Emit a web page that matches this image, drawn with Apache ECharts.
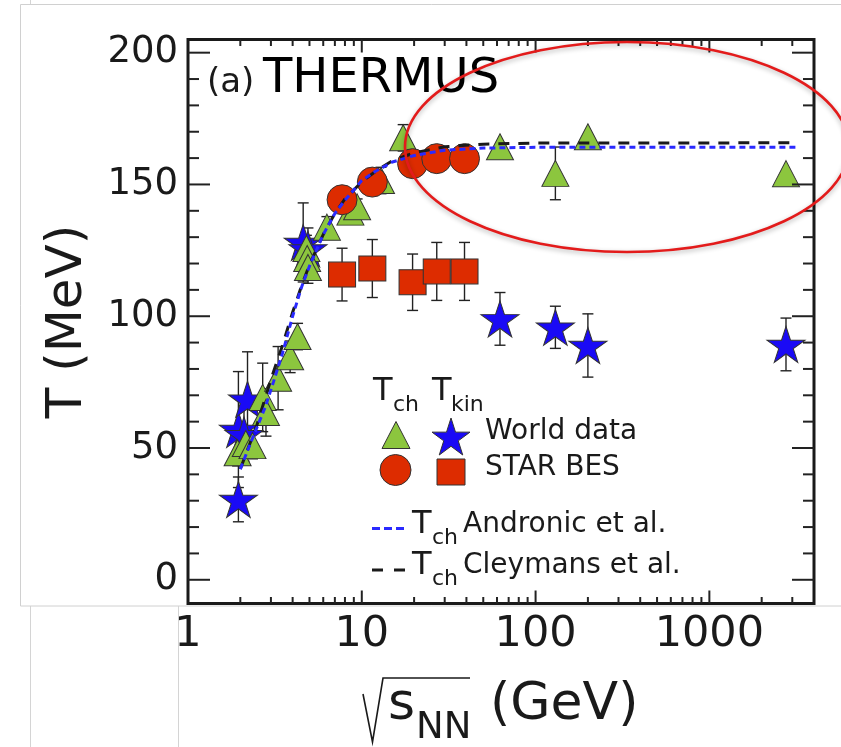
<!DOCTYPE html>
<html>
<head>
<meta charset="utf-8">
<script src="https://cdn.jsdelivr.net/npm/echarts@6/dist/echarts.min.js"></script>
<style>
  html, body { margin: 0; padding: 0; background: #fff; }
  #chart { width: 841px; height: 747px; }
</style>
</head>
<body>
<div id="chart"></div>
<script>
// ---- Chemical freeze-out temperature T_ch, world data (GeV, MeV, MeV error)
const triangleX   = [1.93, 2.15, 2.35, 2.69, 2.81, 3.3, 3.87, 4.27, 4.8, 4.85, 4.9, 6.3, 8.6, 9.4, 12.9, 17.3, 62.4, 130, 200, 2760];
const triangleY   = [48.2, 51.7, 50.9, 69.2, 63.5, 76.5, 84.6, 92.3, 125.7, 121.9, 118.5, 133.8, 139.5, 141.5, 151.5, 167.7, 164.3, 154.2, 168.1, 154.1];
const triangleErr = [5, 5, 5, 13, 9, 12, 6, 5, 5, 5, 6, 4, 3, 3, 5, 5, 0, 10, 0, 0];

// ---- Kinetic freeze-out temperature T_kin, world data
const starX   = [1.95, 1.95, 2.1, 2.2, 4.6, 4.9, 62.4, 130, 200, 2760];
const starY   = [30.5, 57, 55, 68.5, 128, 125.5, 99, 95.8, 88.9, 89.3];
const starErr = [8.5, 22, 10, 18, 15, 8, 10, 8, 12, 10];

// ---- STAR BES: T_ch (circles) and T_kin (squares)
const besX      = [7.7, 11.5, 19.6, 27, 39];
const circleY   = [144.2, 150.9, 157.9, 159.8, 159.8];
const squareY   = [115.8, 118.1, 112.9, 117, 117];
const squareErr = [10, 11, 10.7, 11, 11];

// ---- Model curves for T_ch
const andronicX = [2.0, 2.2, 2.5, 2.8, 3.1, 3.5, 4.0, 4.5, 5.0, 6.0, 7.0, 8.0, 10, 12, 15, 20, 30, 50, 100, 3200];
const andronicY = [42, 49, 58, 66, 75, 86, 100, 111, 119, 131, 139, 144, 151.5, 155, 158.5, 161, 163, 163.8, 164.1, 164.1];
const cleymansX = [2.0, 2.5, 3.0, 3.5, 4.0, 4.5, 5.0, 6.0, 7.0, 8.0, 10, 12, 15, 20, 30, 50, 100, 3200];
const cleymansY = [42, 59, 76, 89, 101.5, 111.5, 119.5, 131, 139, 144.5, 151, 155, 159, 162, 164.3, 165.3, 165.7, 165.8];

// ---- Axis ticks and labels
const xMajorTicks  = [1, 10, 100, 1000];
const xTickLabels  = ['1', '10', '100', '1000'];
const xFrameTicks  = [2, 3, 4, 5, 6, 7, 8, 9, 10, 20, 30, 40, 50, 60, 70, 80, 90,
                      100, 200, 300, 400, 500, 600, 700, 800, 900, 1000, 2000, 3000];
const yMajorTicks  = [0, 50, 100, 150, 200];
const yTickLabels  = ['0', '50', '100', '150', '200'];
const yFrameTicks  = [0, 10, 20, 30, 40, 50, 60, 70, 80, 90, 100, 110, 120, 130, 140,
                      150, 160, 170, 180, 190, 200];

const FONT = 'DejaVu Sans';
const INK = '#1a1a1a';
const GREEN = '#8cc63e', RED = '#dd2c00', BLUE = '#1a0af5';
// five-pointed star outline in a 100-unit box
const STAR_PTS = [[50, 0], [61.23, 34.55], [97.55, 34.55], [68.17, 55.9], [79.39, 90.45],
                  [50, 69.1], [20.61, 90.45], [31.83, 55.9], [2.45, 34.55], [38.77, 34.55]];
const STAR_D = 'M' + STAR_PTS.map(p => p.join(',')).join('L') + 'Z';

const zip = (xs, ys, es) => xs.map((x, i) => es ? [x, ys[i], es[i]] : [x, ys[i]]);
const near = (a, b) => Math.abs(a - b) <= 1e-6 * Math.max(1, Math.abs(b));

// legend key helpers: fit a unit outline into a box
function fitPoints(pts, x, y, w, h) {
  const xs = pts.map(p => p[0]), ys = pts.map(p => p[1]);
  const x0 = Math.min(...xs), x1 = Math.max(...xs), y0 = Math.min(...ys), y1 = Math.max(...ys);
  return pts.map(p => [x + (p[0] - x0) / (x1 - x0) * w, y + (p[1] - y0) / (y1 - y0) * h]);
}

const errorData = [].concat(
  zip(triangleX, triangleY, triangleErr),
  zip(starX, starY, starErr),
  zip(besX, squareY, squareErr)
);

function renderErrorBar(params, api) {
  const x = api.value(0), y = api.value(1), e = api.value(2);
  if (!(e > 0)) return null;
  const hi = api.coord([x, y + e]);
  const lo = api.coord([x, y - e]);
  const cap = 5.5;
  const style = { stroke: '#222', lineWidth: 1.4 };
  return {
    type: 'group',
    children: [
      { type: 'line', shape: { x1: hi[0], y1: hi[1], x2: lo[0], y2: lo[1] }, style },
      { type: 'line', shape: { x1: hi[0] - cap, y1: hi[1], x2: hi[0] + cap, y2: hi[1] }, style },
      { type: 'line', shape: { x1: lo[0] - cap, y1: lo[1], x2: lo[0] + cap, y2: lo[1] }, style }
    ]
  };
}

// frame ticks on bottom/top edges (log x) and left/right edges (linear y)
function renderXTick(params, api) {
  const cs = params.coordSys;
  const v = api.value(0);
  const major = xMajorTicks.some(t => near(v, t));
  const px = api.coord([v, 0])[0];
  const len = major ? 13 : 6.5;
  const style = { stroke: '#222', lineWidth: 2 };
  const b = cs.y + cs.height, t = cs.y;
  return {
    type: 'group',
    children: [
      { type: 'line', shape: { x1: px, y1: b, x2: px, y2: b - len }, style },
      { type: 'line', shape: { x1: px, y1: t, x2: px, y2: t + len }, style }
    ]
  };
}
function renderYTick(params, api) {
  const cs = params.coordSys;
  const v = api.value(1);
  const major = yMajorTicks.some(t => near(v, t));
  const py = api.coord([1, v])[1];
  const len = major ? 22 : 11;
  const style = { stroke: '#222', lineWidth: 2 };
  const l = cs.x, r = cs.x + cs.width;
  return {
    type: 'group',
    children: [
      { type: 'line', shape: { x1: l, y1: py, x2: l + len, y2: py }, style },
      { type: 'line', shape: { x1: r, y1: py, x2: r - len, y2: py }, style }
    ]
  };
}

function txt(x, y, s, size, extra) {
  return {
    type: 'text', x, y, z: 30,
    style: Object.assign({
      text: s, fontFamily: FONT, fontSize: size, fill: INK,
      align: 'left', verticalAlign: 'middle'
    }, extra || {})
  };
}

const markStyle = c => ({ color: c, opacity: 1, borderColor: '#333', borderWidth: 1 });

const graphics = [
  // page furniture behind the figure
  { type: 'line', z: -3, shape: { x1: 30.5, y1: 0, x2: 30.5, y2: 747 }, style: { stroke: '#d4d4d4', lineWidth: 1 } },
  { type: 'rect', z: -2, shape: { x: 20.5, y: 4.5, width: 900, height: 601.5 }, style: { fill: '#fff', stroke: '#d0d0d0', lineWidth: 1 } },
  { type: 'line', z: -2, shape: { x1: 178.5, y1: 606, x2: 178.5, y2: 747 }, style: { stroke: '#d4d4d4', lineWidth: 1 } },

  // panel title
  txt(207, 83, '(a)', 34),
  txt(263, 79.5, 'THERMUS', 48, { fill: '#000' }),

  // legend header
  txt(373, 392, 'T', 32), txt(393, 405.5, 'ch', 22),
  txt(432, 392, 'T', 32), txt(451, 405.5, 'kin', 22),

  // legend: world data
  { type: 'polygon', z: 30, shape: { points: [[396, 421.5], [410, 448.5], [382, 448.5]] },
    style: { fill: GREEN, stroke: '#333', lineWidth: 1 } },
  { type: 'polygon', z: 30, shape: { points: fitPoints(STAR_PTS, 432, 418, 38, 37) },
    style: { fill: BLUE, stroke: '#333', lineWidth: 1 } },
  txt(485, 432, 'World data', 28),

  // legend: STAR BES
  { type: 'circle', z: 30, shape: { cx: 395.5, cy: 470, r: 15.5 }, style: { fill: RED, stroke: '#333', lineWidth: 1 } },
  { type: 'rect', z: 30, shape: { x: 437, y: 459, width: 28, height: 26 }, style: { fill: RED, stroke: '#333', lineWidth: 1 } },
  txt(485, 467.5, 'STAR BES', 28),

  // legend: model curves
  { type: 'line', z: 30, shape: { x1: 372, y1: 528.5, x2: 405, y2: 528.5 }, style: { stroke: '#2a2aff', lineWidth: 3, lineDash: [8, 4] } },
  txt(412, 525, 'T', 32), txt(432, 538.5, 'ch', 22), txt(463, 525, 'Andronic et al.', 28),
  { type: 'line', z: 30, shape: { x1: 372, y1: 570, x2: 405, y2: 570 }, style: { stroke: '#1a1a1a', lineWidth: 3, lineDash: [11, 11] } },
  txt(412, 566, 'T', 32), txt(432, 579.5, 'ch', 22), txt(463, 566, 'Cleymans et al.', 28),

  // x-axis title: sqrt(s_NN) (GeV)
  { type: 'polyline', z: 30, shape: { points: [[363, 694], [372.5, 742], [383, 678], [470, 678]] },
    style: { stroke: INK, lineWidth: 1.6, fill: 'none' } },
  txt(388, 705, 's', 52),
  txt(416, 728, 'NN', 37),
  txt(490, 705, '(GeV)', 52),

  // highlighted plateau region
  { type: 'ellipse', z: 50, shape: { cx: 627, cy: 147, rx: 222, ry: 105 },
    style: { fill: 'none', stroke: '#e31b1b', lineWidth: 2.6, shadowBlur: 5, shadowColor: 'rgba(0,0,0,0.3)', shadowOffsetY: 2 } }
];

const chart = echarts.init(document.getElementById('chart'), null, { renderer: 'canvas' });
chart.setOption({
  animation: false,
  backgroundColor: '#fff',
  grid: {
    left: 188, top: 39.5, width: 626, height: 564,
    show: true, borderColor: '#1a1a1a', borderWidth: 3, backgroundColor: 'transparent'
  },
  xAxis: {
    type: 'log', logBase: 10, min: 1, max: 4000,
    axisLine: { show: false }, axisTick: { show: false }, splitLine: { show: false },
    axisLabel: {
      fontFamily: FONT, fontSize: 43, color: INK, margin: 10,
      showMinLabel: true, showMaxLabel: false,
      formatter: v => { const i = xMajorTicks.findIndex(t => near(v, t)); return i < 0 ? '' : xTickLabels[i]; }
    }
  },
  yAxis: {
    type: 'value', min: -9, max: 205, interval: 1,
    name: 'T (MeV)', nameLocation: 'middle', nameRotate: 90, nameGap: 95,
    nameTextStyle: { fontFamily: FONT, fontSize: 50, color: INK },
    axisLine: { show: false }, axisTick: { show: false }, splitLine: { show: false },
    axisLabel: {
      fontFamily: FONT, fontSize: 37, color: INK, margin: 10,
      showMinLabel: false, showMaxLabel: false,
      formatter: v => { const i = yMajorTicks.findIndex(t => near(v, t)); return i < 0 ? '' : yTickLabels[i]; }
    }
  },
  graphic: graphics,
  series: [
    { type: 'custom', name: 'x ticks', silent: true, clip: false, z: 9,
      data: xFrameTicks.map(v => [v, 0]), renderItem: renderXTick },
    { type: 'custom', name: 'y ticks', silent: true, clip: false, z: 9,
      data: yFrameTicks.map(v => [1, v]), renderItem: renderYTick },
    { type: 'custom', name: 'errors', silent: true, z: 2,
      data: errorData, encode: { x: 0, y: 1 }, renderItem: renderErrorBar },
    { type: 'scatter', name: 'T_kin world', z: 3, symbol: 'path://' + STAR_D, symbolSize: [38, 36],
      itemStyle: markStyle(BLUE), data: zip(starX, starY) },
    { type: 'scatter', name: 'T_ch world', z: 4, symbol: 'triangle', symbolSize: [27, 26],
      itemStyle: markStyle(GREEN), data: zip(triangleX, triangleY) },
    { type: 'scatter', name: 'T_kin STAR BES', z: 5, symbol: 'rect', symbolSize: [27, 25],
      itemStyle: markStyle(RED), data: zip(besX, squareY) },
    { type: 'scatter', name: 'T_ch STAR BES', z: 6, symbol: 'circle', symbolSize: 30,
      itemStyle: markStyle(RED), data: zip(besX, circleY) },
    { type: 'line', name: 'Cleymans et al.', z: 7, showSymbol: false, symbol: 'none', silent: true,
      lineStyle: { color: '#1a1a1a', width: 3, type: [11, 9] }, data: zip(cleymansX, cleymansY) },
    { type: 'line', name: 'Andronic et al.', z: 8, showSymbol: false, symbol: 'none', silent: true,
      lineStyle: { color: '#2a2aff', width: 3, type: [6, 4] }, data: zip(andronicX, andronicY) }
  ]
});
</script>
</body>
</html>
